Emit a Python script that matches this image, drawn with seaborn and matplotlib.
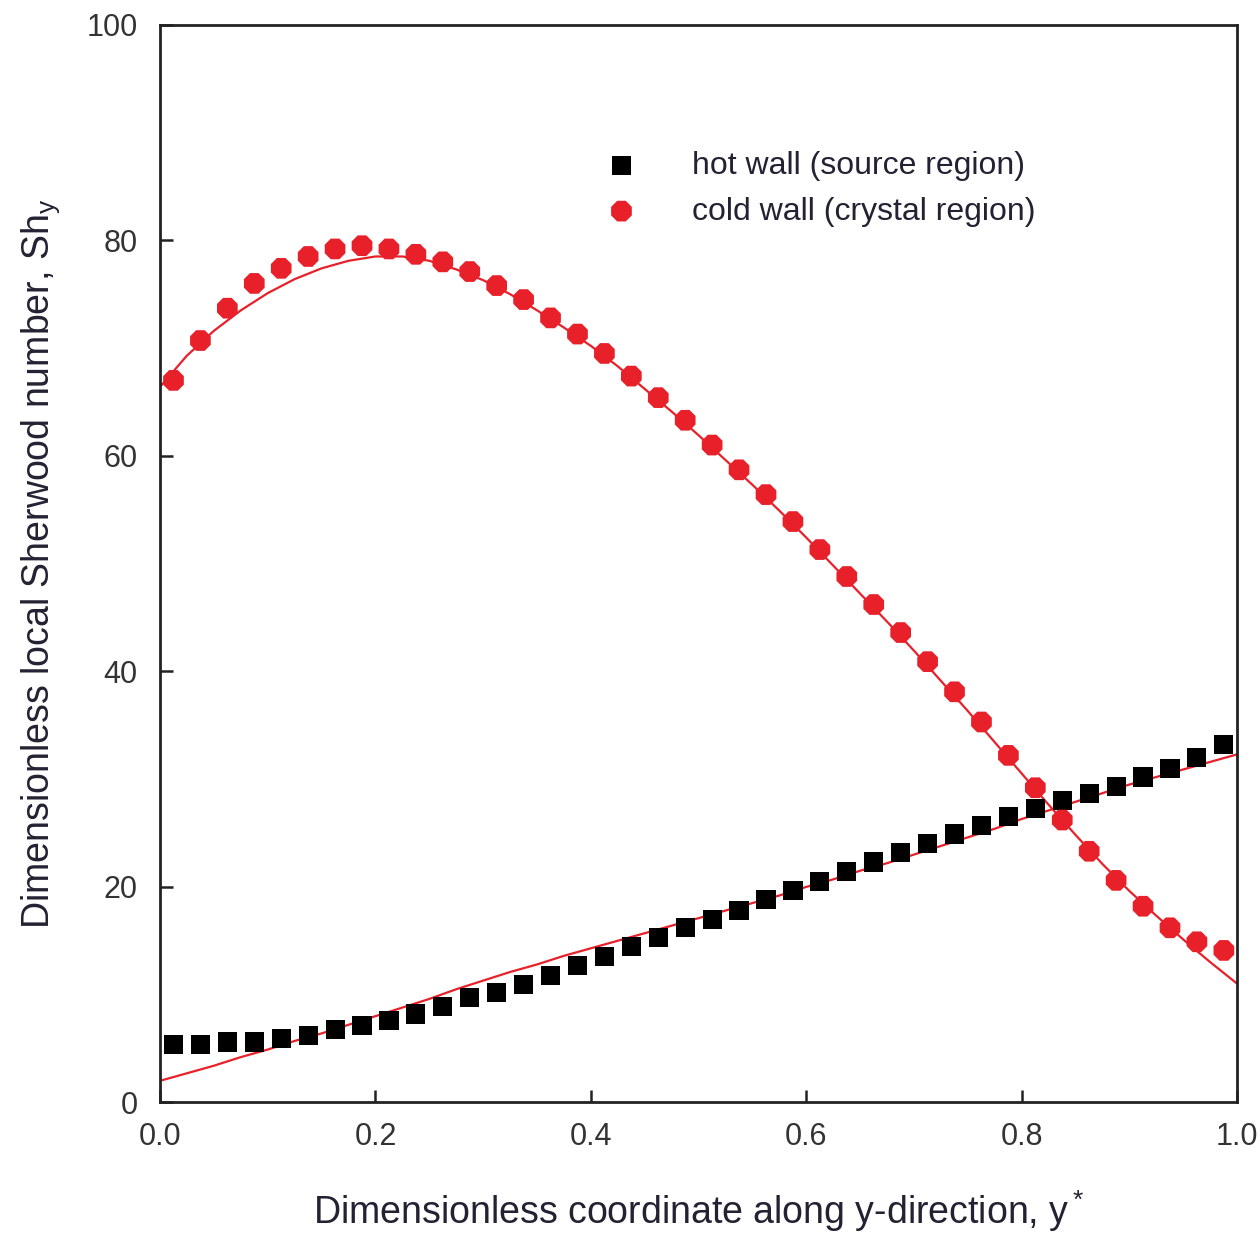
import matplotlib
matplotlib.use("Agg")
import matplotlib.pyplot as plt
import numpy as np
import pandas as pd
import seaborn as sns

# sampled positions along the wall
y_star = [0.0125, 0.0375, 0.0625, 0.0875, 0.1125, 0.1375, 0.1625, 0.1875,
          0.2125, 0.2375, 0.2625, 0.2875, 0.3125, 0.3375, 0.3625, 0.3875,
          0.4125, 0.4375, 0.4625, 0.4875, 0.5125, 0.5375, 0.5625, 0.5875,
          0.6125, 0.6375, 0.6625, 0.6875, 0.7125, 0.7375, 0.7625, 0.7875,
          0.8125, 0.8375, 0.8625, 0.8875, 0.9125, 0.9375, 0.9625, 0.9875]

hot_sh = [5.4, 5.4, 5.6, 5.6, 5.9, 6.2, 6.8, 7.1, 7.6, 8.2,
          8.9, 9.7, 10.2, 10.9, 11.8, 12.7, 13.5, 14.5, 15.3, 16.2,
          17.0, 17.8, 18.8, 19.7, 20.5, 21.4, 22.3, 23.2, 24.0, 24.9,
          25.7, 26.5, 27.3, 28.0, 28.7, 29.3, 30.2, 31.0, 32.0, 33.2]

cold_sh = [67.0, 70.7, 73.7, 76.0, 77.4, 78.5, 79.2, 79.5, 79.2, 78.7,
           78.0, 77.1, 75.8, 74.5, 72.8, 71.3, 69.5, 67.4, 65.4, 63.3,
           61.0, 58.7, 56.4, 53.9, 51.3, 48.8, 46.2, 43.6, 40.9, 38.1,
           35.3, 32.2, 29.2, 26.2, 23.3, 20.6, 18.2, 16.2, 14.9, 14.1]

# fitted curves (red lines)
fit_x = [0.0, 0.025, 0.05, 0.075, 0.1, 0.125, 0.15, 0.175, 0.2, 0.225,
         0.25, 0.275, 0.3, 0.325, 0.35, 0.375, 0.4, 0.425, 0.45, 0.475,
         0.5, 0.525, 0.55, 0.575, 0.6, 0.625, 0.65, 0.675, 0.7, 0.725,
         0.75, 0.775, 0.8, 0.825, 0.85, 0.875, 0.9, 0.925, 0.95, 0.975, 1.0]
hot_fit = [2.0, 2.7, 3.4, 4.2, 4.9, 5.7, 6.4, 7.2, 8.0, 8.8,
           9.6, 10.5, 11.3, 12.1, 12.8, 13.6, 14.3, 15.0, 15.7, 16.4,
           17.1, 17.8, 18.5, 19.2, 20.0, 20.7, 21.5, 22.2, 23.0, 23.8,
           24.6, 25.4, 26.3, 27.1, 27.9, 28.7, 29.5, 30.2, 30.9, 31.6, 32.3]
cold_fit = [66.4, 69.3, 71.6, 73.5, 75.1, 76.4, 77.4, 78.1, 78.5, 78.5,
            78.1, 77.3, 76.3, 75.0, 73.5, 71.9, 70.2, 68.3, 66.2, 64.1,
            61.9, 59.6, 57.3, 54.9, 52.4, 49.8, 47.2, 44.6, 41.9, 39.1,
            36.3, 33.4, 30.5, 27.6, 24.8, 22.1, 19.6, 17.3, 15.1, 13.0, 11.0]

RED = "#e8202a"

sns.set_style("ticks")
plt.rcParams["font.family"] = ["Liberation Sans", "DejaVu Sans"]
plt.rcParams["mathtext.fontset"] = "custom"
plt.rcParams["mathtext.rm"] = "Liberation Sans"
plt.rcParams["mathtext.it"] = "Liberation Sans"

points = pd.DataFrame({"y": y_star, "hot": hot_sh, "cold": cold_sh})
fits = pd.DataFrame({"y": fit_x, "hot": hot_fit, "cold": cold_fit})

fig = plt.figure(figsize=(12.6, 12.4), dpi=100)
ax = fig.add_axes([0.127, 0.111, 0.855, 0.869])

sns.lineplot(data=fits, x="y", y="hot", ax=ax, color=RED, lw=1.6, legend=False)
sns.lineplot(data=fits, x="y", y="cold", ax=ax, color=RED, lw=1.6, legend=False)
sns.scatterplot(data=points, x="y", y="hot", ax=ax, marker="s", s=190,
                color="black", edgecolor="none", label="hot wall (source region)", zorder=3)
sns.scatterplot(data=points, x="y", y="cold", ax=ax, marker="8", s=260,
                color=RED, edgecolor="none", label="cold wall (crystal region)", zorder=3)

ax.set_xlim(0, 1.0)
ax.set_ylim(0, 100)
ax.set_xticks([0.0, 0.2, 0.4, 0.6, 0.8, 1.0])
ax.set_xticklabels(["0.0", "0.2", "0.4", "0.6", "0.8", "1.0"])
ax.set_yticks([0, 20, 40, 60, 80, 100])
ax.tick_params(direction="in", length=9, width=1.8, labelsize=22,
               labelcolor="#333333", color="#222222")
ax.tick_params(axis="x", pad=14)
ax.tick_params(axis="y", pad=16)
for sp in ax.spines.values():
    sp.set_linewidth(2.0)
    sp.set_color("#222222")

ax.set_xlabel("Dimensionless coordinate along y-direction, y$^*$",
              fontsize=27, color="#222233", labelpad=26)
ax.set_ylabel("Dimensionless local Sherwood number, Sh$_y$",
              fontsize=27, color="#222233", labelpad=18)

leg = ax.legend(loc="upper left", bbox_to_anchor=(0.372, 0.91), frameon=False,
                fontsize=23, handletextpad=1.2, labelspacing=0.5,
                markerscale=1.0, labelcolor="#222233")

fig.savefig("out.png", dpi=100)
